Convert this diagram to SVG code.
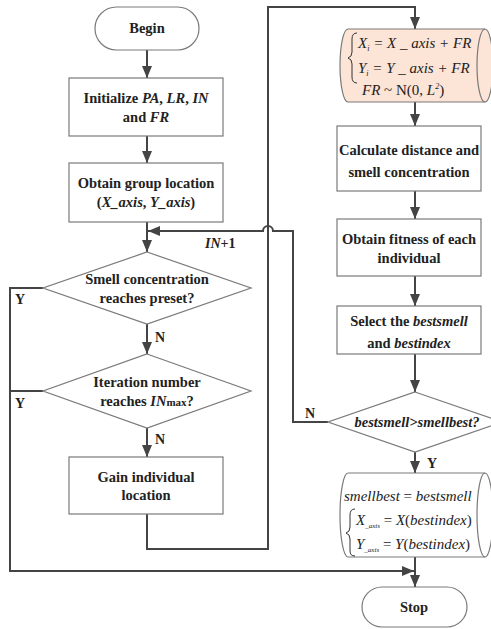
<svg xmlns="http://www.w3.org/2000/svg" width="491" height="629" viewBox="0 0 491 629">
<defs>
<marker id="ah" viewBox="0 0 12 10" refX="12" refY="5" markerWidth="12" markerHeight="10" orient="auto" markerUnits="userSpaceOnUse">
<path d="M0,0 L12,5 L0,10 z" fill="#444"/>
</marker>
<style>
.box{fill:#fff;stroke:#7a7a7a;stroke-width:1.2}
.cyl{stroke:#7a7a7a;stroke-width:1.2}
.con{fill:none;stroke:#444;stroke-width:2}
.arr{fill:none;stroke:#444;stroke-width:2;marker-end:url(#ah)}
.t{font-family:"Liberation Serif","Times New Roman",serif;font-weight:bold;font-size:14.5px;fill:#222;text-anchor:middle}
.m{font-family:"Liberation Serif","Times New Roman",serif;font-style:italic;font-size:15px;fill:#222}
.lab{font-family:"Liberation Serif","Times New Roman",serif;font-weight:bold;font-size:14px;fill:#222}
.br{fill:none;stroke:#333;stroke-width:1}
</style>
</defs>
<rect width="491" height="629" fill="#fff"/>

<g id="connectors">
<path class="arr" d="M147,50 L147,78"/>
<path class="arr" d="M147,136 L147,163"/>
<path class="arr" d="M147,222 L147,252"/>
<path class="arr" d="M147,324 L147,354"/>
<path class="arr" d="M147,428 L147,457"/>
<path class="arr" d="M147,514 L147,549 L268,549 L268,7 L415,7 L415,29"/>
<path class="con" d="M43,391 L10,391"/>
<path class="arr" d="M43,288 L10,288 L10,571 L414,571"/>
<path class="arr" d="M415,102 L415,126"/>
<path class="arr" d="M415,191 L415,219"/>
<path class="arr" d="M415,276 L415,306"/>
<path class="arr" d="M415,354 L415,392"/>
<path class="arr" d="M328,422 L293,422 L293,231 L273,231 A5,5 0 0 0 263,231 L148,231"/>
<path class="arr" d="M415,452 L415,473"/>
<path class="arr" d="M415,557 L415,587"/>
<text class="lab" x="15" y="304">Y</text>
<text class="lab" x="15" y="408">Y</text>
<text class="lab" x="155" y="342">N</text>
<text class="lab" x="155" y="444">N</text>
<text class="lab" x="205" y="248"><tspan font-style="italic">IN</tspan>+1</text>
<text class="lab" x="305" y="418">N</text>
<text class="lab" x="427" y="468">Y</text>
</g>

<g id="begin">
<rect class="box" x="95" y="7" width="104" height="43" rx="21.5"/>
<text class="t" x="147" y="33">Begin</text>
</g>

<g id="init">
<rect class="box" x="69" y="78" width="154" height="58"/>
<text class="t" x="146" y="103">Initialize <tspan font-style="italic">PA</tspan>, <tspan font-style="italic">LR</tspan>, <tspan font-style="italic">IN</tspan></text>
<text class="t" x="146" y="122">and <tspan font-style="italic">FR</tspan></text>
</g>

<g id="obtain-group">
<rect class="box" x="69" y="163" width="154" height="59"/>
<text class="t" x="146" y="188">Obtain group location</text>
<text class="t" x="146" y="207">(<tspan font-style="italic">X_axis</tspan>, <tspan font-style="italic">Y_axis</tspan>)</text>
</g>

<g id="decision-smell">
<polygon class="box" points="147,252 251,288 147,324 43,288"/>
<text class="t" x="147" y="284">Smell concentration</text>
<text class="t" x="147" y="303">reaches preset?</text>
</g>

<g id="decision-iter">
<polygon class="box" points="147,354 251,391 147,428 43,391"/>
<text class="t" x="147" y="387">Iteration number</text>
<text class="t" x="147" y="406">reaches <tspan font-style="italic">IN</tspan><tspan font-size="11px">max</tspan>?</text>
</g>

<g id="gain">
<rect class="box" x="69" y="457" width="154" height="57"/>
<text class="t" x="146" y="482">Gain individual</text>
<text class="t" x="146" y="500">location</text>
</g>

<g id="update-location">
<path class="cyl" fill="#fce4d6" d="M348,29 L485,29 A8,36.5 0 0 1 485,102 L348,102 A8,36.5 0 0 1 348,29 Z"/>
<path class="cyl" fill="none" d="M485,29 A8,36.5 0 0 0 485,102"/>
<path class="br" d="M357,33 Q352,33 352,39 L352,52 Q352,57 348,58 Q352,59 352,64 L352,77 Q352,83 357,83"/>
<text class="m" x="358" y="48">X<tspan font-size="8px" dy="3">i</tspan><tspan dy="-3"> = X _ axis + FR</tspan></text>
<text class="m" x="358" y="73">Y<tspan font-size="8px" dy="3">i</tspan><tspan dy="-3">  = Y _ axis  + FR</tspan></text>
<text class="m" x="362" y="95">FR <tspan font-style="normal">~ N(0, </tspan>L<tspan font-size="8px" dy="-6">2</tspan><tspan font-style="normal" dy="6">)</tspan></text>
</g>

<g id="calc">
<rect class="box" x="337" y="126" width="144" height="65"/>
<text class="t" x="409" y="155">Calculate distance and</text>
<text class="t" x="409" y="177">smell concentration</text>
</g>

<g id="fitness">
<rect class="box" x="337" y="219" width="144" height="57"/>
<text class="t" x="409" y="244">Obtain fitness of each</text>
<text class="t" x="409" y="263">individual</text>
</g>

<g id="select">
<rect class="box" x="337" y="306" width="144" height="48"/>
<text class="t" x="409" y="326">Select the <tspan font-style="italic">bestsmell</tspan></text>
<text class="t" x="409" y="348">and <tspan font-style="italic">bestindex</tspan></text>
</g>

<g id="decision-best">
<polygon class="box" points="415,392 502,422 415,452 328,422"/>
<text class="t" x="417" y="427" font-style="italic">bestsmell&gt;smellbest?</text>
</g>

<g id="update-best">
<path class="cyl" fill="#fff" d="M348,473 L485,473 A8,42 0 0 1 485,557 L348,557 A8,42 0 0 1 348,473 Z"/>
<path class="cyl" fill="none" d="M485,473 A8,42 0 0 0 485,557"/>
<text class="m" x="344" y="501">smellbest <tspan font-style="normal">=</tspan> bestsmell</text>
<path class="br" d="M355,509 Q350,509 350,515 L350,527 Q350,532 346,533 Q350,534 350,539 L350,551 Q350,556 355,556"/>
<text class="m" x="356" y="525">X<tspan font-size="7px" dy="3">_axis</tspan><tspan dy="-3" font-style="normal"> = </tspan>X<tspan font-style="normal">(</tspan>bestindex<tspan font-style="normal">)</tspan></text>
<text class="m" x="356" y="549">Y<tspan font-size="7px" dy="3">_axis</tspan><tspan dy="-3" font-style="normal">  =  </tspan>Y<tspan font-style="normal">(</tspan>bestindex<tspan font-style="normal">)</tspan></text>
</g>

<g id="stop">
<rect class="box" x="362" y="587" width="105" height="40" rx="20"/>
<text class="t" x="414" y="612">Stop</text>
</g>
</svg>
